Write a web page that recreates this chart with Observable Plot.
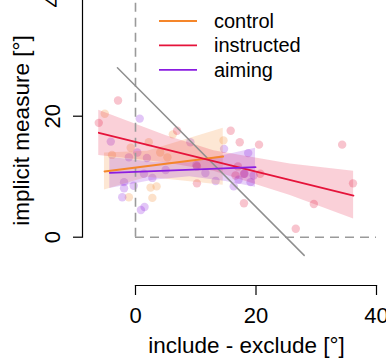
<!DOCTYPE html>
<html><head><meta charset="utf-8">
<script src="https://cdn.jsdelivr.net/npm/d3@7"></script>
<script src="https://cdn.jsdelivr.net/npm/@observablehq/plot@0.6"></script>
<style>
body{margin:0;background:#fff;}
#wrap{position:relative;width:386px;height:358px;overflow:hidden;background:#fff;font-family:"Liberation Sans",Arial,Helvetica,sans-serif;}
#wrap svg{display:block;}
#legend{position:absolute;left:0;top:0;}
</style></head><body><div id="wrap"></div>
<script>
// ---- data ----
const groups = ["control", "instructed", "aiming"];
const colors = ["#f5862a", "#e5133a", "#8a1de0"];

const xTicks = [0, 20, 40];
const yTicks = [0, 20, 40];
const xTitle = "include - exclude [°]";
const yTitle = "implicit measure [°]";

// individual participants
const controlX = [-5.1, 6.2, 14.6, 2.2, -0.8, 4.1, 5.3, -3.9, 2.5, -1.1, 2.8, 3.5];
const controlY = [20.4, 17.0, 16.0, 15.7, 14.8, 14.0, 13.2, 13.6, 8.2, 6.6, 6.5, 8.4];
const instructedX = [-2.9, -6.1, 6.9, 15.8, 17.3, 20.5, 34.3, 10.2, 16.6, 10.2, 18.0, 20.7, 29.6, 36.1, 26.6, 17.0, 18.0];
const instructedY = [22.6, 18.9, 17.6, 17.6, 15.7, 15.3, 15.3, 11.7, 10.2, 8.9, 5.6, 10.5, 5.5, 8.9, 1.4, 11.7, 10.5];
const aimingX = [0.7, -4.1, 9.1, 14.7, 18.7, 0.3, -1.1, 1.9, 5.0, 11.6, 2.8, -1.9, 1.4, 18.1, 19.6, 13.3, -1.9, 16.3, 19.1, -0.3, -2.2, 0.9, 1.5, 10.1, 17.1];
const aimingY = [19.6, 15.8, 15.7, 14.6, 13.9, 14.0, 13.2, 13.1, 11.1, 10.6, 9.8, 9.1, 10.5, 10.5, 10.2, 9.3, 8.1, 8.4, 9.1, 8.5, 6.6, 4.5, 5.0, 11.9, 9.5];

// regression lines (endpoints)
const controlFitX = [-5.15, 14.56];
const controlFitY = [10.86, 13.34];
const instructedFitX = [-6.09, 36.18];
const instructedFitY = [17.26, 6.89];
const aimingFitX = [-4.27, 19.92];
const aimingFitY = [10.64, 11.57];

// confidence bands
const controlBandX = [-5.15, 2, 14.56];
const controlBandLo = [7.8, 9.9, 8.6];
const controlBandHi = [13.9, 14.2, 18.0];
const instructedBandX = [-6.1, 5, 13, 25.7, 36.2];
const instructedBandLo = [13.5, 12.3, 10.9, 6.9, 3.0];
const instructedBandHi = [21.0, 16.8, 14.3, 12.1, 10.9];
const aimingBandX = [-4.27, 3, 9, 15, 19.92];
const aimingBandLo = [8.05, 9.4, 10.0, 9.2, 8.26];
const aimingBandHi = [13.2, 12.4, 12.3, 13.6, 14.7];

// reference lines
const diagX = [-3, 28];
const diagY = [28, -3];
const vGuideX = [0];
const vGuideY = [0, 40];
const hGuideY = [0];
const hGuideX = [0, 40];

// ---- build tables ----
const ptsX = [controlX, instructedX, aimingX];
const ptsY = [controlY, instructedY, aimingY];
const fitX = [controlFitX, instructedFitX, aimingFitX];
const fitY = [controlFitY, instructedFitY, aimingFitY];
const bandX = [controlBandX, instructedBandX, aimingBandX];
const bandLo = [controlBandLo, instructedBandLo, aimingBandLo];
const bandHi = [controlBandHi, instructedBandHi, aimingBandHi];

const pts = [], fits = [], bands = [];
groups.forEach((g, i) => {
  ptsX[i].forEach((x, j) => pts.push({group: g, x, y: ptsY[i][j]}));
  fitX[i].forEach((x, j) => fits.push({group: g, x, y: fitY[i][j]}));
  bandX[i].forEach((x, j) => bands.push({group: g, x, lo: bandLo[i][j], hi: bandHi[i][j]}));
});
const diag = diagX.map((x, i) => ({x, y: diagY[i]}));
const vGuide = vGuideX.map(x => ({x, y1: vGuideY[0], y2: vGuideY[1]}));
const hGuide = hGuideY.map(y => ({y, x1: hGuideX[0], x2: hGuideX[1]}));

const FONT = "'Liberation Sans', Arial, Helvetica, sans-serif";

const chart = Plot.plot({
  width: 386, height: 358,
  marginTop: 0, marginRight: 0, marginBottom: 73, marginLeft: 82,
  x: {domain: [0, 40], range: [135, 376], axis: null},
  y: {domain: [0, 40], range: [236.7, -5.3], axis: null},
  color: {domain: groups, range: colors},
  style: {fontFamily: FONT, fontSize: "22px", color: "#000", background: "#fff"},
  marks: [
    Plot.dot(pts, {x: "x", y: "y", fill: "group", fillOpacity: 0.25, r: 4.2}),
    Plot.areaY(bands, {x: "x", y1: "lo", y2: "hi", fill: "group", z: "group", fillOpacity: 0.2}),
    Plot.ruleX(vGuide, {x: "x", y1: "y1", y2: "y2", stroke: "#9a9a9a", strokeWidth: 1.6, strokeDasharray: "9,6"}),
    Plot.ruleY(hGuide, {y: "y", x1: "x1", x2: "x2", stroke: "#9a9a9a", strokeWidth: 1.6, strokeDasharray: "9,6"}),
    Plot.line(diag, {x: "x", y: "y", stroke: "#8f8f8f", strokeWidth: 1.5}),
    Plot.line(fits, {x: "x", y: "y", stroke: "group", z: "group", strokeWidth: 1.8}),
    Plot.frame({anchor: "left", insetBottom: 48.3, stroke: "#000", strokeWidth: 1.2}),
    Plot.frame({anchor: "bottom", insetLeft: 53, insetRight: 10, stroke: "#000", strokeWidth: 1.2}),
    Plot.axisX(xTicks, {anchor: "bottom", tickSize: 10, tickPadding: 12, fontSize: 22, label: null, strokeWidth: 1.2}),
    Plot.axisY(yTicks, {anchor: "left", tickSize: 9, tickFormat: () => "", label: null, strokeWidth: 1.2}),
    Plot.text(yTicks, {y: d => d, text: d => String(d), frameAnchor: "left", textAnchor: "middle", lineAnchor: "middle", dx: -29.5, rotate: -90, fontSize: 22, fill: "#000"}),
    Plot.text([xTitle], {text: d => d, frameAnchor: "bottom", textAnchor: "middle", dx: 12, dy: 60.7, fontSize: 22.5, lineAnchor: "middle", fill: "#000"}),
    Plot.text([yTitle], {text: d => d, frameAnchor: "left", textAnchor: "middle", lineAnchor: "middle", rotate: -90, dx: -61, dy: -12.5, fontSize: 22.5, fill: "#000"})
  ]
});
const wrap = document.getElementById("wrap");
wrap.appendChild(chart);

// legend overlay
const leg = d3.select(wrap).append("svg").attr("id", "legend")
  .attr("width", 386).attr("height", 100);
groups.forEach((g, i) => {
  const cy = 21 + i * 24.4;
  leg.append("line").attr("x1", 159).attr("x2", 197).attr("y1", cy).attr("y2", cy)
    .attr("stroke", colors[i]).attr("stroke-width", 1.8);
  leg.append("text").attr("x", 214).attr("y", cy).attr("dy", "0.35em")
    .attr("font-family", FONT).attr("font-size", 20).attr("fill", "#000").text(g);
});
</script></body></html>
